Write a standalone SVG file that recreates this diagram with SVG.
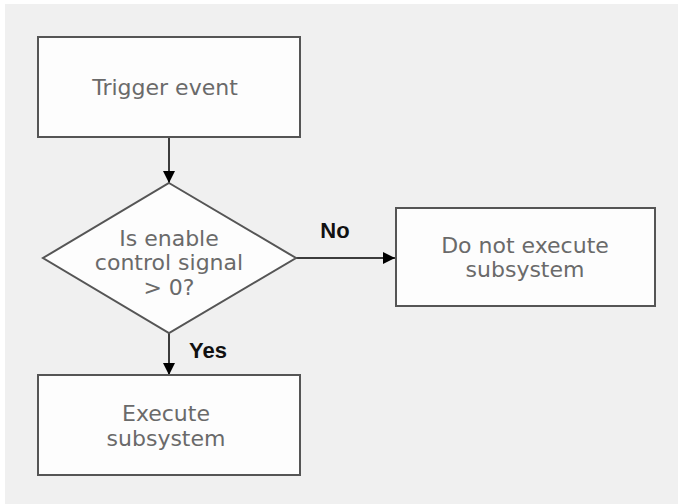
<svg xmlns="http://www.w3.org/2000/svg" width="678" height="504" viewBox="0 0 678 504">
<defs>
<marker id="arr" viewBox="0 0 12 12" refX="12" refY="6" markerWidth="12" markerHeight="12" markerUnits="userSpaceOnUse" orient="auto">
<path d="M0,0 L12,6 L0,12 z" fill="#000"/>
</marker>
<style>
.box{fill:#fdfdfd;stroke:#555;stroke-width:2}
.t{font-family:"DejaVu Sans",Verdana,sans-serif;font-size:22px;fill:#6a6a6a;text-anchor:middle;dominant-baseline:central}
.lbl{font-family:"Liberation Sans",Arial,sans-serif;font-size:22px;font-weight:bold;fill:#111}
.c{stroke:#000;stroke-width:1.5;fill:none}
</style>
</defs>
<rect x="0" y="0" width="678" height="504" fill="#fff"/>
<rect x="5" y="4" width="673" height="500" fill="#f0f0f0"/>
<g id="connectors">
<line class="c" x1="169" y1="137" x2="169" y2="183" marker-end="url(#arr)"/>
<line class="c" x1="296" y1="258" x2="395" y2="258" marker-end="url(#arr)"/>
<line class="c" x1="169" y1="333" x2="169" y2="375" marker-end="url(#arr)"/>
<text class="lbl" x="335" y="238" text-anchor="middle">No</text>
<text class="lbl" x="189" y="358">Yes</text>
</g>
<g id="trigger">
<rect class="box" x="38" y="37" width="262" height="100"/>
<text class="t" x="165" y="87">Trigger event</text>
</g>
<g id="decision">
<polygon class="box" points="169,183 296,258 169,333 43,258"/>
<text class="t" x="169" y="238">Is enable</text>
<text class="t" x="169" y="262">control signal</text>
<text class="t" x="169" y="287">&gt; 0?</text>
</g>
<g id="noexec">
<rect class="box" x="396" y="208" width="259" height="98"/>
<text class="t" x="525" y="245">Do not execute</text>
<text class="t" x="525" y="269">subsystem</text>
</g>
<g id="exec">
<rect class="box" x="38" y="375" width="262" height="100"/>
<text class="t" x="166" y="413">Execute</text>
<text class="t" x="166" y="438">subsystem</text>
</g>
</svg>
